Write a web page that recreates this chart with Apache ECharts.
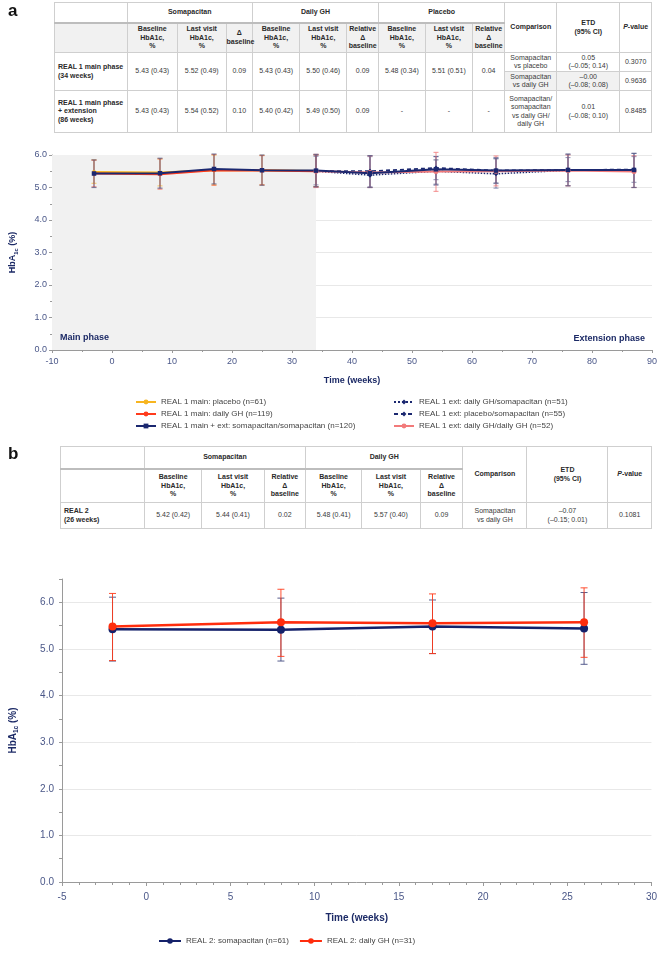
<!DOCTYPE html>
<html><head><meta charset="utf-8">
<script src="https://cdn.jsdelivr.net/npm/echarts@6/dist/echarts.min.js"></script>
<style>
body{margin:0;background:#fff;font-family:"Liberation Sans",Arial,sans-serif;}
#c{position:absolute;left:0;top:0;width:660px;height:954px;}
.lbl{position:absolute;font-weight:bold;font-size:17px;color:#111;z-index:3;}
table.t{position:absolute;border-collapse:collapse;table-layout:fixed;z-index:3;background:#fff;font-size:7px;line-height:8.5px;color:#3a3a3a;}
table.t td,table.t th{border:1px solid #cfcfcf;padding:0;text-align:center;vertical-align:middle;overflow:visible;white-space:nowrap;}
table.t th{font-weight:bold;color:#2a2a2a;}
table.t tr.sub td,table.t tr.sub th{border-top:2px solid #bdbdbd;}
table.t tr.sub.grey td,table.t tr.sub.grey th{background:#f1f1f1;}
table.t td.rl{text-align:left;font-weight:bold;color:#2a2a2a;padding-left:3px;}
table.t td.g{background:#f1f1f1;}
</style></head>
<body>
<div id="c"></div>
<div class="lbl" style="left:8px;top:1px;">a</div>
<div class="lbl" style="left:8px;top:444px;">b</div>

<table class="t" id="ta" style="left:54px;top:2px;width:597px;">
<colgroup>
<col style="width:72.5px"><col style="width:50.5px"><col style="width:48.5px"><col style="width:26.5px">
<col style="width:47.2px"><col style="width:47.2px"><col style="width:31.6px">
<col style="width:46.7px"><col style="width:47.3px"><col style="width:32.4px">
<col style="width:51.8px"><col style="width:63.2px"><col style="width:31.6px">
</colgroup>
<tr style="height:20px"><td></td><th colspan="3">Somapacitan</th><th colspan="3">Daily GH</th><th colspan="3">Placebo</th><th rowspan="2">Comparison</th><th rowspan="2">ETD<br>(95% CI)</th><th rowspan="2"><i>P</i>-value</th></tr>
<tr class="sub grey" style="height:30px"><td></td><th>Baseline<br>HbA1c,<br>%</th><th>Last visit<br>HbA1c,<br>%</th><th>Δ<br>baseline</th><th>Baseline<br>HbA1c,<br>%</th><th>Last visit<br>HbA1c,<br>%</th><th>Relative<br>Δ<br>baseline</th><th>Baseline<br>HbA1c,<br>%</th><th>Last visit<br>HbA1c,<br>%</th><th>Relative<br>Δ<br>baseline</th></tr>
<tr style="height:19px"><td rowspan="2" class="rl">REAL 1 main phase<br>(34 weeks)</td><td rowspan="2">5.43 (0.43)</td><td rowspan="2">5.52 (0.49)</td><td rowspan="2">0.09</td><td rowspan="2">5.43 (0.43)</td><td rowspan="2">5.50 (0.46)</td><td rowspan="2">0.09</td><td rowspan="2">5.48 (0.34)</td><td rowspan="2">5.51 (0.51)</td><td rowspan="2">0.04</td><td>Somapacitan<br>vs placebo</td><td>0.05<br>(–0.05; 0.14)</td><td>0.3070</td></tr>
<tr style="height:19px"><td class="g">Somapacitan<br>vs daily GH</td><td class="g">–0.00<br>(–0.08; 0.08)</td><td>0.9636</td></tr>
<tr style="height:42px"><td class="rl">REAL 1 main phase<br>+ extension<br>(86 weeks)</td><td>5.43 (0.43)</td><td>5.54 (0.52)</td><td>0.10</td><td>5.40 (0.42)</td><td>5.49 (0.50)</td><td>0.09</td><td>-</td><td>-</td><td>-</td><td>Somapacitan/<br>somapacitan<br>vs daily GH/<br>daily GH</td><td>0.01<br>(–0.08; 0.10)</td><td>0.8485</td></tr>
</table>

<table class="t" id="tb" style="left:60px;top:446px;width:591px;">
<colgroup>
<col style="width:83.8px"><col style="width:57.7px"><col style="width:62.1px"><col style="width:41.5px">
<col style="width:56.1px"><col style="width:58.5px"><col style="width:42.7px">
<col style="width:64.1px"><col style="width:81px"><col style="width:43.5px">
</colgroup>
<tr style="height:22px"><td></td><th colspan="3">Somapacitan</th><th colspan="3">Daily GH</th><th rowspan="2">Comparison</th><th rowspan="2">ETD<br>(95% CI)</th><th rowspan="2"><i>P</i>-value</th></tr>
<tr class="sub" style="height:34px"><td></td><th>Baseline<br>HbA1c,<br>%</th><th>Last visit<br>HbA1c,<br>%</th><th>Relative<br>Δ<br>baseline</th><th>Baseline<br>HbA1c,<br>%</th><th>Last visit<br>HbA1c,<br>%</th><th>Relative<br>Δ<br>baseline</th></tr>
<tr style="height:26px"><td class="rl">REAL 2<br>(26 weeks)</td><td>5.42 (0.42)</td><td>5.44 (0.41)</td><td>0.02</td><td>5.48 (0.41)</td><td>5.57 (0.40)</td><td>0.09</td><td>Somapacitan<br>vs daily GH</td><td>–0.07<br>(–0.15; 0.01)</td><td>0.1081</td></tr>
</table>

<script>
// ---------- DATA: panel a (REAL 1) ----------
const weeksMainA = [-3, 8, 17, 25, 34];
const weeksExtA = [34, 43, 54, 64, 76, 87];
const weeksSomaA = [-3, 8, 17, 25, 34, 43, 54, 64, 76, 87];
const phaseStartA = -10;
const phaseSplitA = 34;
const phaseEndA = 90;

const placeboMean = [5.48, 5.46, 5.53, 5.53, 5.51];
const placeboLow  = [5.13, 5.05, 5.08, 5.08, 5.03];
const placeboHigh = [5.85, 5.88, 6.00, 5.99, 6.01];

const dailyGhMainMean = [5.43, 5.41, 5.53, 5.52, 5.50];
const dailyGhMainLow  = [5.02, 4.95, 5.07, 5.08, 5.02];
const dailyGhMainHigh = [5.84, 5.88, 6.01, 5.98, 6.00];

const somaMean = [5.43, 5.44, 5.57, 5.53, 5.52, 5.44, 5.56, 5.52, 5.54, 5.54];
const somaLow  = [5.00, 4.98, 5.11, 5.07, 5.02, 5.00, 5.10, 5.14, 5.05, 5.00];
const somaHigh = [5.85, 5.90, 6.03, 6.00, 6.02, 5.98, 5.85, 5.90, 6.03, 6.05];

const extGhSomaMean = [5.50, 5.38, 5.50, 5.42, 5.53, 5.53];
const extGhSomaLow  = [5.02, 5.00, 5.07, 4.98, 5.06, 5.00];
const extGhSomaHigh = [6.00, 5.98, 5.95, 5.88, 6.02, 6.05];

const extPlaSomaMean = [5.51, 5.50, 5.60, 5.52, 5.54, 5.55];
const extPlaSomaLow  = [5.08, 5.02, 5.24, 5.12, 5.18, 5.16];
const extPlaSomaHigh = [5.96, 5.95, 5.95, 5.92, 5.92, 5.95];

const extGhGhMean = [5.50, 5.46, 5.49, 5.50, 5.52, 5.49];
const extGhGhLow  = [5.00, 5.00, 4.88, 5.05, 5.05, 5.00];
const extGhGhHigh = [6.02, 5.97, 6.08, 5.97, 6.00, 5.98];

const namesA = [
  'REAL 1 main: placebo (n=61)',
  'REAL 1 main: daily GH (n=119)',
  'REAL 1 main + ext: somapacitan/somapacitan (n=120)',
  'REAL 1 ext: daily GH/somapacitan (n=51)',
  'REAL 1 ext: placebo/somapacitan (n=55)',
  'REAL 1 ext: daily GH/daily GH (n=52)'
];
const phaseLabelsA = ['Main phase', 'Extension phase'];

// ---------- DATA: panel b (REAL 2) ----------
const weeksB = [-2, 8, 17, 26];
const somaBMean = [5.42, 5.41, 5.48, 5.44];
const somaBLow  = [4.74, 4.74, 4.90, 4.67];
const somaBHigh = [6.11, 6.09, 6.05, 6.21];
const ghBMean = [5.48, 5.57, 5.55, 5.57];
const ghBLow  = [4.75, 4.84, 4.90, 4.82];
const ghBHigh = [6.19, 6.28, 6.18, 6.31];
const namesB = ['REAL 2: somapacitan (n=61)', 'REAL 2: daily GH (n=31)'];

// ---------- helpers ----------
const pairs = (xs, ys) => xs.map((x, i) => [x, ys[i]]);
const triples = (xs, lo, hi) => xs.map((x, i) => [x, lo[i], hi[i]]);

function errSeries(name, xi, yi, xs, lo, hi, color, cap, lw, op) {
  return {
    type: 'custom', name: name, xAxisIndex: xi, yAxisIndex: yi, z: 1,
    data: triples(xs, lo, hi),
    encode: {x: 0, y: [1, 2]},
    silent: true,
    renderItem: function (params, api) {
      const x = api.value(0), l = api.value(1), h = api.value(2);
      const pl = api.coord([x, l]), ph = api.coord([x, h]);
      const st = {stroke: color, lineWidth: lw, opacity: op};
      return {type: 'group', children: [
        {type: 'line', shape: {x1: pl[0], y1: pl[1], x2: ph[0], y2: ph[1]}, style: st},
        {type: 'line', shape: {x1: pl[0] - cap, y1: pl[1], x2: pl[0] + cap, y2: pl[1]}, style: st},
        {type: 'line', shape: {x1: ph[0] - cap, y1: ph[1], x2: ph[0] + cap, y2: ph[1]}, style: st}
      ]};
    }
  };
}

const NAVY = '#1b2870';
const AXC = '#4a5788';
const TITLEC = '#1c2a66';
const FONT = 'Liberation Sans';

const cPla = '#f7b520', cGh = '#ff3b1c', cGhGh = '#f27a7a';

function lineS(name, xi, yi, data, color, opts) {
  return Object.assign({
    type: 'line', name: name, xAxisIndex: xi, yAxisIndex: yi, data: data, z: 3,
    symbol: 'circle', symbolSize: 4, color: color,
    lineStyle: {color: color, width: 2}, itemStyle: {color: color}
  }, opts || {});
}

const chart = echarts.init(document.getElementById('c'), null, {renderer: 'canvas'});

const yName = (fs) => ({
  name: '{m|HbA}{s|1c}{m| (%)}',
  nameLocation: 'middle', nameRotate: 90,
  nameTextStyle: {rich: {
    m: {fontSize: fs, fontWeight: 'bold', color: TITLEC, fontFamily: FONT, lineHeight: fs + 4, verticalAlign: 'middle'},
    s: {fontSize: fs * 0.65, fontWeight: 'bold', color: TITLEC, fontFamily: FONT, lineHeight: fs + 4, verticalAlign: 'bottom'}
  }}
});

const AXG = '#9a9a9a';
const option = {
  animation: false,
  textStyle: {fontFamily: FONT},
  grid: [
    {left: 52, right: 8, top: 155, height: 195},
    {left: 58, right: 8, top: 579, height: 303}
  ],
  xAxis: [
    {gridIndex: 0, type: 'value', min: phaseStartA, max: phaseEndA, interval: 10,
     name: 'Time (weeks)', nameLocation: 'middle', nameGap: 26,
     nameTextStyle: {fontSize: 9, fontWeight: 'bold', color: TITLEC},
     axisLine: {onZero: false, lineStyle: {color: AXG}}, axisTick: {show: true, length: 3, lineStyle: {color: AXG}},
     minorTick: {show: true, splitNumber: 2, length: 2, lineStyle: {color: AXG}},
     axisLabel: {fontSize: 9, color: AXC, margin: 7}, splitLine: {show: false}},
    {gridIndex: 1, type: 'value', min: -5, max: 30, interval: 5,
     name: 'Time (weeks)', nameLocation: 'middle', nameGap: 31,
     nameTextStyle: {fontSize: 10, fontWeight: 'bold', color: TITLEC},
     axisLine: {onZero: false, lineStyle: {color: AXG}}, axisTick: {show: true, length: 4, lineStyle: {color: AXG}},
     minorTick: {show: true, splitNumber: 5, length: 3, lineStyle: {color: AXG}},
     axisLabel: {fontSize: 10, color: AXC, margin: 10}, splitLine: {show: false}}
  ],
  yAxis: [
    Object.assign({gridIndex: 0, type: 'value', min: 0, max: 6, interval: 1, nameGap: 33,
     axisLine: {show: true, onZero: false, lineStyle: {color: AXG}}, axisTick: {show: true, length: 3, lineStyle: {color: AXG}},
     minorTick: {show: true, splitNumber: 2, length: 2, lineStyle: {color: AXG}},
     axisLabel: {fontSize: 9, color: AXC, margin: 5, formatter: v => v.toFixed(1)},
     splitLine: {show: true, showMinLine: false, lineStyle: {color: '#e8e8e8'}}}, yName(9)),
    Object.assign({gridIndex: 1, type: 'value', min: 0, max: 6.5, interval: 1, nameGap: 42,
     axisLine: {show: true, onZero: false, lineStyle: {color: AXG}}, axisTick: {show: true, length: 3, lineStyle: {color: AXG}},
     minorTick: {show: true, splitNumber: 2, length: 3, lineStyle: {color: AXG}},
     axisLabel: {fontSize: 10, color: AXC, margin: 8, showMaxLabel: false, formatter: v => (v % 1 === 0 ? v.toFixed(1) : '')},
     splitLine: {show: true, showMinLine: false, showMaxLine: false, lineStyle: {color: '#e8e8e8'}}}, yName(10))
  ],
  legend: [
    {data: namesA.slice(0, 3), orient: 'vertical', left: 130, top: 393, itemGap: 4, itemWidth: 20, itemHeight: 6,
     textStyle: {fontSize: 8, color: '#444'}},
    {data: namesA.slice(3, 6), orient: 'vertical', left: 388, top: 393, itemGap: 4, itemWidth: 20, itemHeight: 6,
     textStyle: {fontSize: 8, color: '#444'}},
    {data: namesB, orient: 'horizontal', left: 153, top: 932, itemGap: 10, itemWidth: 22, itemHeight: 7,
     textStyle: {fontSize: 8, color: '#444'}}
  ],
  series: [
    // shaded phases
    {type: 'line', name: 'phases', xAxisIndex: 0, yAxisIndex: 0, data: [], silent: true, z: 0,
     markArea: {silent: true,
       label: {show: true, fontSize: 9, fontWeight: 'bold', color: TITLEC, fontFamily: FONT, formatter: '{b}'},
       data: [
         [{name: phaseLabelsA[0], xAxis: phaseStartA, yAxis: 0, itemStyle: {color: '#f1f1f1'},
           label: {position: 'insideBottomLeft', distance: 8}},
          {xAxis: phaseSplitA, yAxis: 6}],
         [{name: phaseLabelsA[1], xAxis: phaseSplitA, yAxis: 0, itemStyle: {color: 'rgba(0,0,0,0)'},
           label: {position: 'insideBottomRight', distance: 7}},
          {xAxis: phaseEndA, yAxis: 6}]
       ]
     }},
    // error bars panel a
    errSeries('e0', 0, 0, weeksMainA, placeboLow, placeboHigh, cPla, 2.5, 1, 0.7),
    errSeries('e1', 0, 0, weeksMainA, dailyGhMainLow, dailyGhMainHigh, cGh, 2.5, 1, 0.6),
    errSeries('e3', 0, 0, weeksExtA, extGhSomaLow, extGhSomaHigh, NAVY, 2.5, 1, 0.5),
    errSeries('e4', 0, 0, weeksExtA, extPlaSomaLow, extPlaSomaHigh, NAVY, 2.5, 1, 0.5),
    errSeries('e5', 0, 0, weeksExtA, extGhGhLow, extGhGhHigh, cGhGh, 2.5, 1.2, 0.7),
    errSeries('e2', 0, 0, weeksSomaA, somaLow, somaHigh, '#5a5f8a', 2.5, 1.2, 0.75),
    // lines panel a
    lineS(namesA[0], 0, 0, pairs(weeksMainA, placeboMean), cPla),
    lineS(namesA[1], 0, 0, pairs(weeksMainA, dailyGhMainMean), cGh),
    lineS(namesA[3], 0, 0, pairs(weeksExtA, extGhSomaMean), NAVY, {lineStyle: {color: NAVY, width: 1.5, type: 'dotted'}, symbol: 'diamond', symbolSize: 5}),
    lineS(namesA[4], 0, 0, pairs(weeksExtA, extPlaSomaMean), NAVY, {lineStyle: {color: NAVY, width: 1.8, type: [4, 3]}, symbol: 'diamond', symbolSize: 5}),
    lineS(namesA[5], 0, 0, pairs(weeksExtA, extGhGhMean), cGhGh, {lineStyle: {color: cGhGh, width: 2}, symbolSize: 5}),
    lineS(namesA[2], 0, 0, pairs(weeksSomaA, somaMean), NAVY, {symbol: 'rect', symbolSize: 4.5}),
    // panel b
    errSeries('eb0', 1, 1, weeksB, somaBLow, somaBHigh, '#3a427a', 3.5, 1, 0.85),
    errSeries('eb1', 1, 1, weeksB, ghBLow, ghBHigh, '#ff3a1a', 3.5, 1, 0.9),
    lineS(namesB[0], 1, 1, pairs(weeksB, somaBMean), '#14216a', {symbolSize: 8, lineStyle: {color: '#14216a', width: 2.5}}),
    lineS(namesB[1], 1, 1, pairs(weeksB, ghBMean), '#ff2d0d', {symbolSize: 8, lineStyle: {color: '#ff2d0d', width: 2.5}})
  ]
};
chart.setOption(option);
</script>
</body></html>
